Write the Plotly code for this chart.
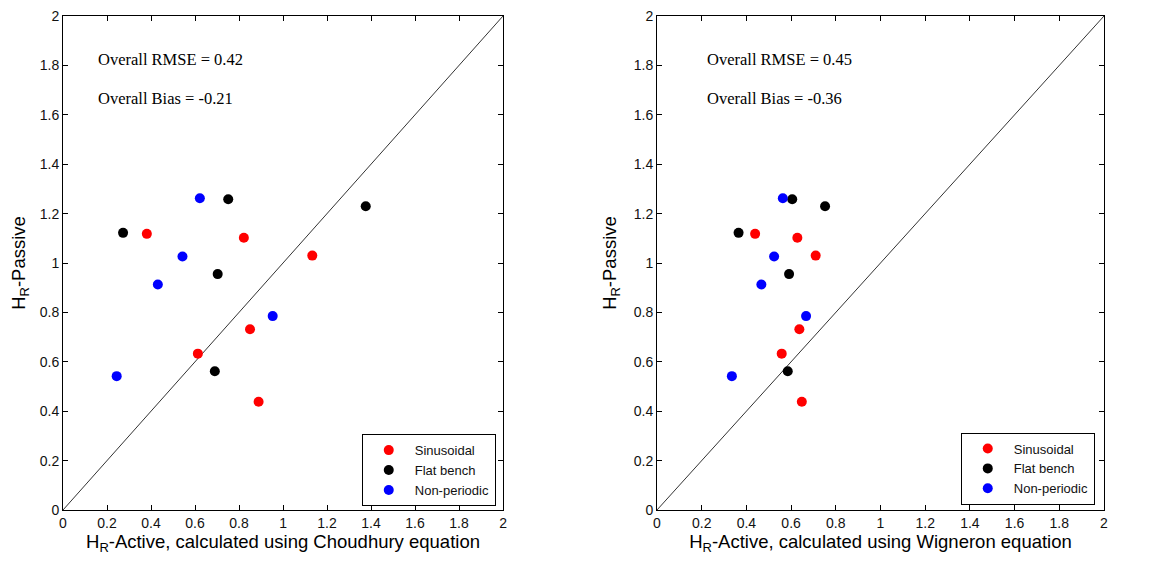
import plotly.graph_objects as go

# passive H_R values (y), shared by both panels
sin_passive = [1.118, 1.102, 1.030, 0.732, 0.633, 0.438]
flat_passive = [1.122, 1.258, 1.230, 0.955, 0.562]
nonp_passive = [1.262, 1.026, 0.913, 0.785, 0.542]

# active H_R, Choudhury equation (left panel)
sin_choud = [0.381, 0.822, 1.133, 0.850, 0.613, 0.889]
flat_choud = [0.273, 0.751, 1.376, 0.703, 0.690]
nonp_choud = [0.622, 0.543, 0.431, 0.953, 0.244]

# active H_R, Wigneron equation (right panel)
sin_wig = [0.439, 0.628, 0.710, 0.637, 0.558, 0.648]
flat_wig = [0.365, 0.605, 0.752, 0.591, 0.585]
nonp_wig = [0.563, 0.524, 0.467, 0.667, 0.335]

groups = ['Sinusoidal', 'Flat bench', 'Non-periodic']
colors = ['#ff0000', '#000000', '#0000ff']
one_to_one = [0, 2]
ticks = [0, 0.2, 0.4, 0.6, 0.8, 1, 1.2, 1.4, 1.6, 1.8, 2]
tick_text = ['0', '0.2', '0.4', '0.6', '0.8', '1', '1.2', '1.4', '1.6', '1.8', '2']

rmse = ['0.42', '0.45']
bias = ['-0.21', '-0.36']
equations = ['Choudhury', 'Wigneron']

panels = [
    [sin_choud, flat_choud, nonp_choud],
    [sin_wig, flat_wig, nonp_wig],
]
passive = [sin_passive, flat_passive, nonp_passive]

fig = go.Figure()

for p in range(2):
    xa = 'x' if p == 0 else 'x2'
    ya = 'y' if p == 0 else 'y2'
    lg = 'legend' if p == 0 else 'legend2'
    fig.add_trace(go.Scatter(x=one_to_one, y=one_to_one, mode='lines',
                             line=dict(color='#333333', width=1),
                             showlegend=False, hoverinfo='none',
                             xaxis=xa, yaxis=ya))
    for g in range(3):
        fig.add_trace(go.Scatter(x=panels[p][g], y=passive[g], mode='markers',
                                 name=groups[g],
                                 marker=dict(color=colors[g], size=10),
                                 xaxis=xa, yaxis=ya, legend=lg))

axis = dict(range=[0, 2], tickvals=ticks, ticktext=tick_text, automargin=False,
            ticklabeloverflow='allow',
            showgrid=False, zeroline=False, showline=True, linecolor='black',
            linewidth=1, mirror='ticks', ticks='inside', ticklen=5,
            tickcolor='black', tickfont=dict(size=14, color='#111111'))

annotations = []
ann_x = [0.152, 0.213]
for p in range(2):
    xr = 'x' if p == 0 else 'x2'
    yr = 'y' if p == 0 else 'y2'
    annotations.append(dict(text='Overall RMSE = ' + rmse[p], x=ann_x[p], y=1.822,
                            xref=xr, yref=yr, xanchor='left', showarrow=False,
                            font=dict(family='Liberation Serif', size=16.5, color='black')))
    annotations.append(dict(text='Overall Bias = ' + bias[p], x=ann_x[p], y=1.668,
                            xref=xr, yref=yr, xanchor='left', showarrow=False,
                            font=dict(family='Liberation Serif', size=16.5, color='black')))

legend_style = dict(bordercolor='black', borderwidth=1, bgcolor='white',
                    font=dict(size=13, color='#111111'), itemwidth=42,
                    xanchor='left', yanchor='top')

# page body has an 8px margin, so the figure is sized to fit inside the window
fig.update_layout(
    width=1148, height=547,
    margin=dict(l=55, r=52, t=8, b=45),
    paper_bgcolor='white', plot_bgcolor='white',
    font=dict(family='Liberation Sans', color='black'),
    xaxis=dict(axis, domain=[0, 0.4227],
               title=dict(text='H<sub>R</sub>-Active, calculated using ' + equations[0] + ' equation',
                          font=dict(size=18.5), standoff=9)),
    yaxis=dict(axis, domain=[0, 1],
               title=dict(text='H<sub>R</sub>-Passive', font=dict(size=18.5), standoff=12)),
    xaxis2=dict(axis, domain=[0.5706, 1.0], anchor='y2',
                title=dict(text='H<sub>R</sub>-Active, calculated using ' + equations[1] + ' equation',
                           font=dict(size=18.5), standoff=9)),
    yaxis2=dict(axis, domain=[0, 1], anchor='x2',
                title=dict(text='H<sub>R</sub>-Passive', font=dict(size=18.5), standoff=12)),
    legend=dict(legend_style, x=0.287, y=0.1535),
    legend2=dict(legend_style, x=0.8624, y=0.1568),
    annotations=annotations,
)

fig.write_html('out.html')
